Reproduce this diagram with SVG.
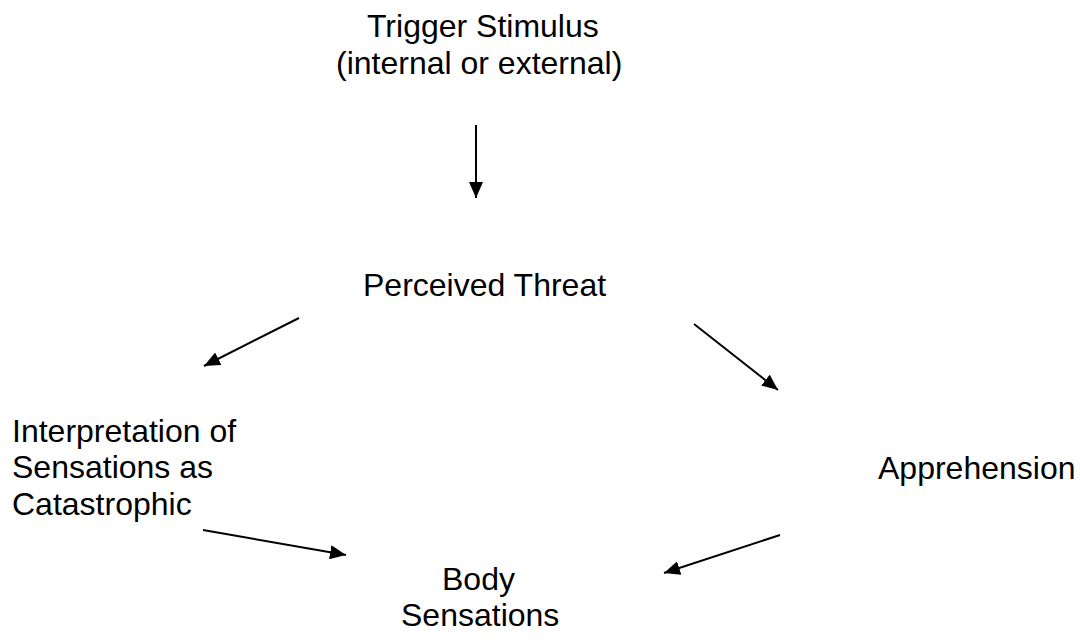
<svg xmlns="http://www.w3.org/2000/svg" width="1080" height="642" viewBox="0 0 1080 642">
<style>
text{font-family:"Liberation Sans",Arial,sans-serif;font-size:32px;fill:#000}
.c{stroke:#000;stroke-width:2;fill:none}
</style>
<defs>
<marker id="ah" viewBox="0 0 16 14" refX="16" refY="7" markerWidth="16" markerHeight="14" markerUnits="userSpaceOnUse" orient="auto">
<path d="M0,0 L16,7 L0,14 z" fill="#000"/>
</marker>
</defs>
<rect width="1080" height="642" fill="#fff"/>
<g id="trigger">
<text x="367" y="37">Trigger Stimulus</text>
<text x="336" y="74">(internal or external)</text>
</g>
<g id="threat">
<text x="363" y="296">Perceived Threat</text>
</g>
<g id="interpretation">
<text x="12" y="442">Interpretation of</text>
<text x="12" y="478">Sensations as</text>
<text x="12" y="515">Catastrophic</text>
</g>
<g id="apprehension">
<text x="878" y="479">Apprehension</text>
</g>
<g id="body">
<text x="442" y="590">Body</text>
<text x="401" y="626">Sensations</text>
</g>
<g id="connectors">
<line class="c" x1="476" y1="125" x2="476" y2="198" marker-end="url(#ah)"/>
<line class="c" x1="299" y1="318" x2="204" y2="366" marker-end="url(#ah)"/>
<line class="c" x1="694" y1="324" x2="778" y2="390" marker-end="url(#ah)"/>
<line class="c" x1="203" y1="530" x2="346" y2="555" marker-end="url(#ah)"/>
<line class="c" x1="780" y1="535" x2="664" y2="573" marker-end="url(#ah)"/>
</g>
</svg>
